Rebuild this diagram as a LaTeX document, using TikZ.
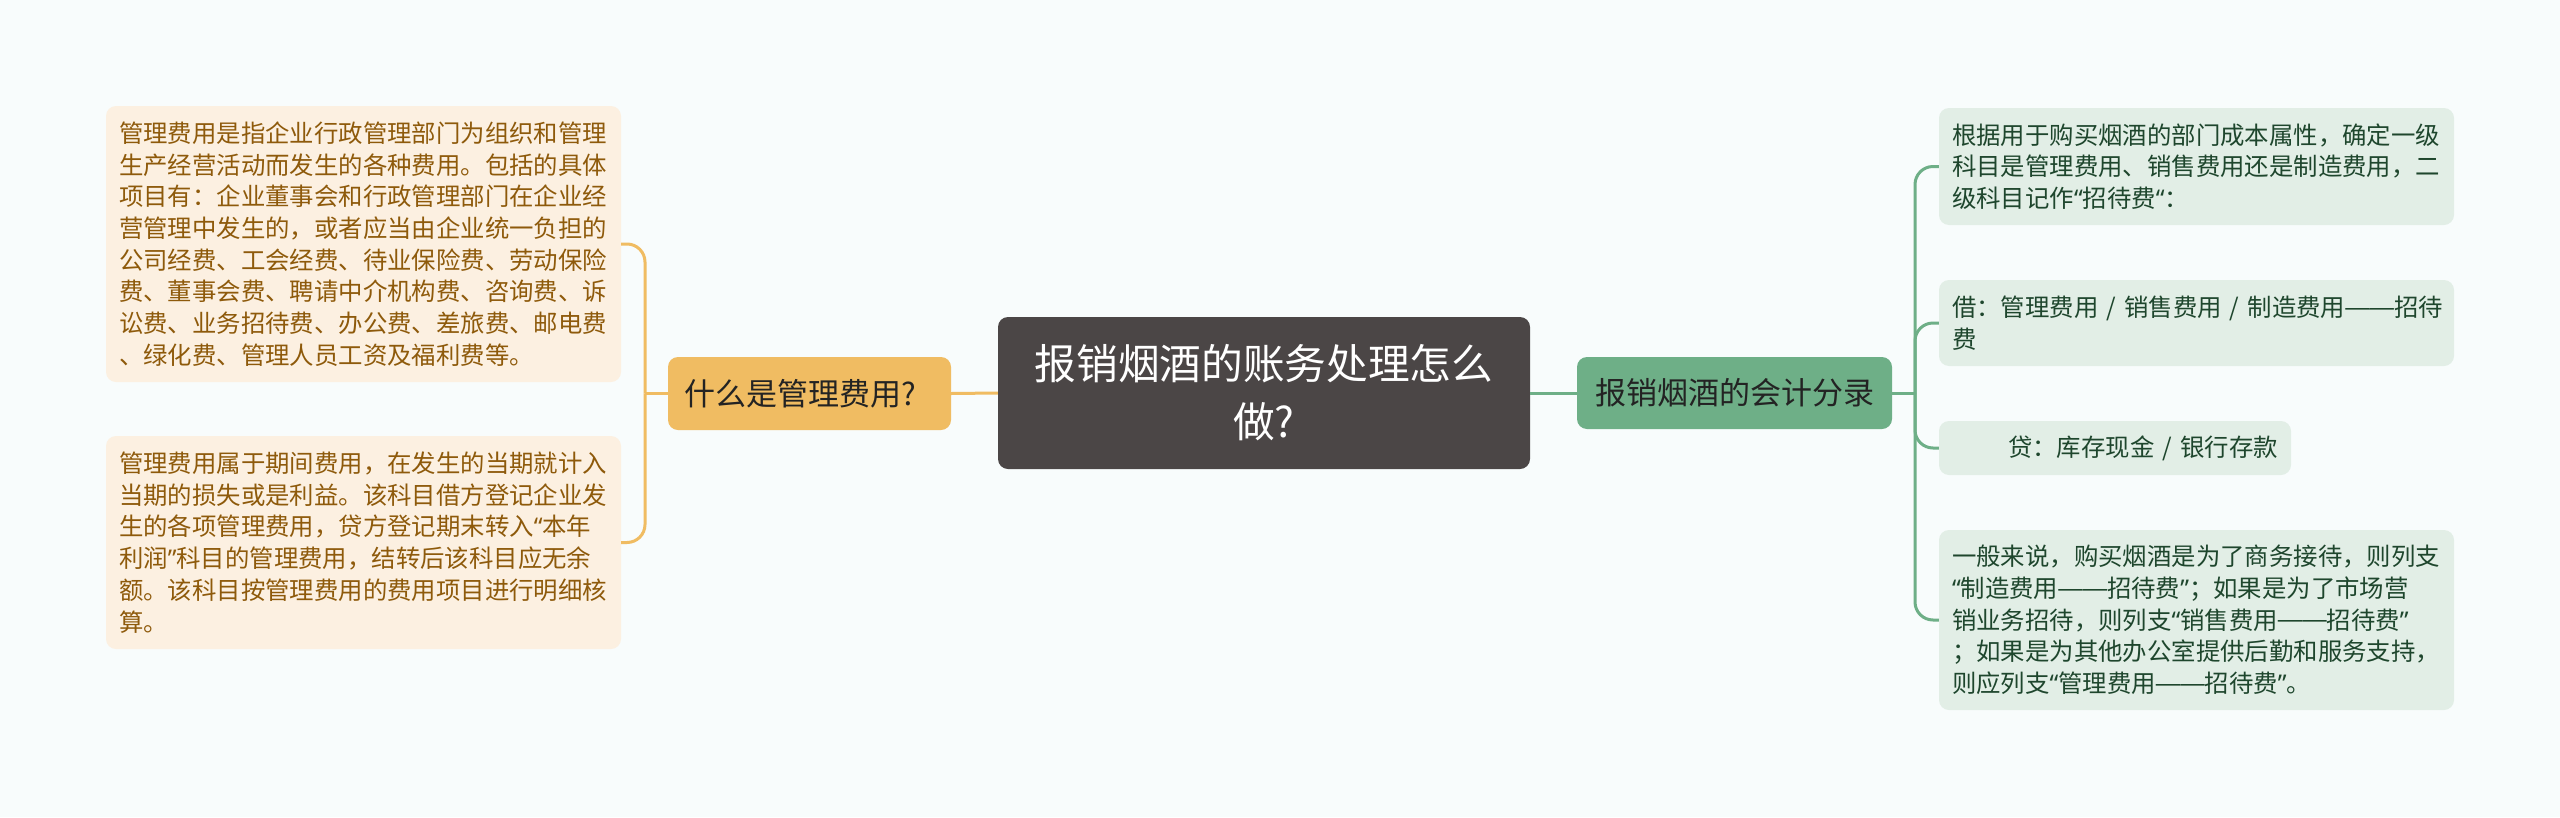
\documentclass[tikz,border=0pt]{standalone}
\usepackage{fontspec}
\newfontfamily\cjk{Noto Sans CJK SC}
\newfontfamily\latq{Noto Sans}
\newfontfamily\dashfont{Liberation Sans}
\newcommand\mydd{\mbox{\dashfont\raisebox{0.06em}{——}}}
\newcommand\myoq{{\latq “}}
\newcommand\mycq{{\latq ”}}
\definecolor{bgc}{RGB}{248,252,252}
\definecolor{orangeC}{RGB}{240,188,98}
\definecolor{lfill}{RGB}{252,240,225}
\definecolor{ltext}{RGB}{142,90,11}
\definecolor{centerC}{RGB}{75,70,70}
\definecolor{greenC}{RGB}{110,175,135}
\definecolor{rfill}{RGB}{226,238,230}
\definecolor{rtext}{RGB}{30,70,45}
\definecolor{darktext}{RGB}{35,35,35}
\begin{document}
\begin{tikzpicture}[x=1pt,y=-1pt,
  leaf/.style={rounded corners=10pt, inner ysep=0pt, inner xsep=13pt, align=left,
    font=\cjk\fontsize{24.4pt}{31.7pt}\selectfont},
  lbox/.style={leaf, fill=lfill, text=ltext, text width=489pt, minimum width=515pt},
  rbox/.style={leaf, fill=rfill, text=rtext, text width=489pt, minimum width=515pt},
  mainbox/.style={rounded corners=10pt, inner sep=0pt},
  oline/.style={draw=orangeC, line width=3pt, rounded corners=18pt},
  gline/.style={draw=greenC, line width=3pt, rounded corners=18pt}
]
\useasboundingbox (0,0) rectangle (2560,817);
\fill[bgc] (0,0) rectangle (2560,817);

% central
\node[mainbox, fill=centerC, text=white, align=center, minimum width=532pt, minimum height=152pt,
  font=\cjk\fontsize{41.7pt}{58pt}\selectfont] (root) at (1264,393) {报销烟酒的账务处理怎么\\做?};

% left branch
\node[mainbox, fill=orangeC, text=darktext, align=left, text width=251pt, inner xsep=16pt,
  minimum width=283pt, minimum height=73pt, font=\cjk\fontsize{31pt}{36pt}\selectfont]
  (what) at (809.5,393.5) {什么是管理费用?};

\node[lbox, minimum height=276pt] (l1) at (363.5,244) {管理费用是指企业行政管理部门为组织和管理\\
生产经营活动而发生的各种费用。包括的具体\\
项目有：企业董事会和行政管理部门在企业经\\
营管理中发生的，或者应当由企业统一负担的\\
公司经费、工会经费、待业保险费、劳动保险\\
费、董事会费、聘请中介机构费、咨询费、诉\\
讼费、业务招待费、办公费、差旅费、邮电费\\
、绿化费、管理人员工资及福利费等。};

\node[lbox, minimum height=213pt] (l2) at (363.5,542.5) {管理费用属于期间费用，在发生的当期就计入\\
当期的损失或是利益。该科目借方登记企业发\\
生的各项管理费用，贷方登记期末转入\myoq 本年\\
利润\mycq 科目的管理费用，结转后该科目应无余\\
额。该科目按管理费用的费用项目进行明细核\\
算。};

% right branch
\node[mainbox, fill=greenC, text=darktext, align=center, minimum width=315pt, minimum height=72pt,
  font=\cjk\fontsize{31pt}{36pt}\selectfont] (acc) at (1734.5,393) {报销烟酒的会计分录};

\node[rbox, minimum height=117pt] (r1) at (2196.5,166.5) {根据用于购买烟酒的部门成本属性，确定一级\\
科目是管理费用、销售费用还是制造费用，二\\
级科目记作\myoq 招待费\myoq ：};

\node[rbox, minimum height=86pt] (r2) at (2196.5,323) {\mbox{借：管理费用 / 销售费用 / 制造费用\mydd 招待}\\
费};

\node[leaf, fill=rfill, text=rtext, align=right, text width=326pt, minimum width=352pt,
  minimum height=54pt] (r3) at (2115,448) {贷：库存现金 / 银行存款};

\node[rbox, minimum height=180pt] (r4) at (2196.5,620) {一般来说，购买烟酒是为了商务接待，则列支\\
\myoq 制造费用\mydd 招待费\mycq ；如果是为了市场营\\
销业务招待，则列支\myoq 销售费用\mydd 招待费\mycq \\
；如果是为其他办公室提供后勤和服务支持，\\
则应列支\myoq 管理费用\mydd 招待费\mycq 。};

% connectors
\coordinate (lj) at (645,393.5);
\coordinate (rj) at (1915,393);
\draw[oline] (root.west) -- (what.east);
\draw[oline] (what.west) -- (lj);
\draw[oline] (lj) |- (l1.east);
\draw[oline] (lj) |- (l2.east);
\draw[gline] (root.east) -- (acc.west);
\draw[gline] (acc.east) -- (rj);
\draw[gline] (rj) |- (r1.west);
\draw[gline] (rj) |- (r2.west);
\draw[gline] (rj) |- (r3.west);
\draw[gline] (rj) |- (r4.west);
\end{tikzpicture}
\end{document}
